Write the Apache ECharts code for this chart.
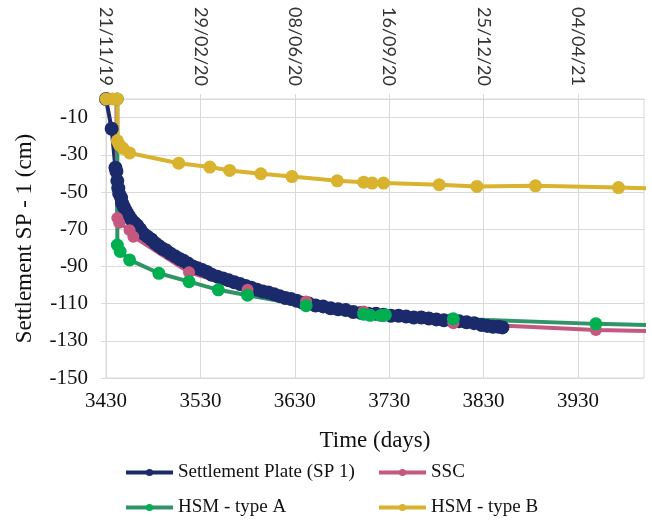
<!DOCTYPE html>
<html>
<head>
<meta charset="utf-8">
<script src="https://cdn.jsdelivr.net/npm/echarts@6/dist/echarts.min.js"></script>
<style>
  html, body { margin: 0; padding: 0; background: #fff; }
  #settlementChart { width: 652px; height: 520px; }
</style>
</head>
<body>
<div id="settlementChart"></div>
<script>
// tick positions (days) and the matching dates on the top axis
const dayTicks = [3430, 3530, 3630, 3730, 3830, 3930];
const dateLabels = ['21/11/19', '29/02/20', '08/06/20', '16/09/20', '25/12/20', '04/04/21'];
const settleTicks = [-150, -130, -110, -90, -70, -50, -30, -10];

// [day, settlement cm]
const sp1Data = [
    [3430, 0], [3436, -16], [3440, -37], [3441, -39], [3442, -44], [3443, -48],
    [3444, -51], [3446, -53], [3447, -56], [3449, -58], [3451, -60], [3453, -62],
    [3455, -63.5], [3457, -65], [3460, -66.5], [3463, -68], [3466, -70], [3470, -72.5],
    [3474, -74], [3478, -75.5], [3482, -77.5], [3486, -79], [3490, -80.5], [3494, -81.5],
    [3498, -83], [3503, -84.5], [3508, -86], [3512, -87], [3517, -88.5], [3522, -90],
    [3527, -91], [3532, -92], [3537, -93], [3542, -94.5], [3548, -95.5], [3554, -96.5],
    [3560, -97.5], [3566, -98.5], [3572, -99.5], [3578, -100.5], [3584, -101.5], [3590, -102.5],
    [3596, -103.5], [3602, -104], [3608, -105], [3614, -106], [3620, -107], [3626, -107.5],
    [3632, -108.5], [3638, -109.5], [3645, -110], [3652, -111], [3660, -111.5], [3668, -112.5],
    [3676, -113], [3684, -113.5], [3692, -114.5], [3700, -115], [3708, -115.5], [3716, -115.5],
    [3724, -116], [3732, -116.5], [3740, -116.5], [3748, -117], [3756, -117.5], [3764, -117.5],
    [3772, -118], [3780, -118.5], [3788, -119], [3796, -119], [3804, -119.5], [3812, -120],
    [3820, -120.5], [3828, -121.5], [3834, -122], [3840, -122.5], [3846, -122.5], [3850, -122.8]
];
const sscData = [
    [3441, 0], [3442, -64], [3444, -66.5], [3455, -70.5], [3459, -74], [3518, -93.2],
    [3580, -102.6], [3642, -108.9], [3703, -114.3], [3798, -120.6], [3949, -124.2], [4050, -125.3]
];
const hsmAData = [
    [3442, 0], [3442, -78.5], [3445, -82], [3455, -86.5], [3486, -93.7], [3518, -98.2],
    [3549, -102.6], [3580, -105.5], [3642, -111.1], [3703, -115.7], [3710, -116.3],
    [3721, -116.4], [3726, -116.1], [3798, -118.2], [3949, -120.9], [4050, -122]
];
const hsmBData = [
    [3430, 0], [3437, 0], [3442, 0], [3442, -22.5], [3444, -24.5], [3448, -26.5],
    [3455, -29], [3507, -34.5], [3540, -36.6], [3561, -38.4], [3594, -40.2], [3627, -41.7],
    [3675, -44], [3703, -44.7], [3712, -45.2], [3724, -45.2], [3783, -46.1], [3823, -47],
    [3885, -46.7], [3973, -47.6], [4050, -48.5]
];

const serif = 'Liberation Serif';
const gridColor = '#d9d9d9';

const lineSeries = (name, data, lineColor, dotColor, size) => ({
    name: name,
    type: 'line',
    data: data,
    symbol: 'circle',
    symbolSize: size,
    showSymbol: true,
    lineStyle: { color: lineColor, width: 4 },
    itemStyle: { color: dotColor },
    emphasis: { disabled: true },
    animation: false,
    z: 2
});

const legendItem = (name, left, top) => ({
    data: [name],
    left: left,
    top: top,
    padding: 0,
    itemWidth: 47,
    itemHeight: 9,
    lineStyle: { width: 4 },
    textStyle: { fontFamily: serif, fontSize: 19, color: '#111' }
});

const chart = echarts.init(document.getElementById('settlementChart'));
chart.setOption({
    backgroundColor: '#fff',
    animation: false,
    grid: {
        left: 106, right: 8, top: 99, bottom: 142,
        show: true, borderColor: gridColor, borderWidth: 1
    },
    legend: [
        legendItem('Settlement Plate (SP 1)', 124, 463),
        legendItem('SSC', 377, 463),
        legendItem('HSM - type A', 124, 498),
        legendItem('HSM - type B', 377, 498)
    ],
    xAxis: [{
        type: 'value',
        min: 3430,
        max: 4000,
        name: 'Time (days)',
        nameLocation: 'middle',
        nameGap: 51,
        nameTextStyle: { fontFamily: serif, fontSize: 23, color: '#111' },
        axisLine: { show: true, lineStyle: { color: gridColor } },
        axisTick: { show: true, length: 5, customValues: dayTicks, lineStyle: { color: gridColor } },
        axisLabel: {
            customValues: dayTicks, margin: 13, fontFamily: serif, fontSize: 21, color: '#111',
            formatter: (v) => String(v)
        },
        splitLine: { show: true, lineStyle: { color: gridColor, width: 1 } }
    }, {
        type: 'value',
        position: 'top',
        min: 3430,
        max: 4000,
        axisLine: { show: true, lineStyle: { color: gridColor } },
        axisTick: { show: true, length: 5, customValues: dayTicks, lineStyle: { color: gridColor } },
        axisLabel: {
            customValues: dayTicks,
            rotate: 90,
            margin: 13,
            fontFamily: 'Lato',
            fontSize: 18,
            color: '#333',
            formatter: (v) => dateLabels[dayTicks.indexOf(v)] || ''
        },
        splitLine: { show: false }
    }],
    yAxis: {
        type: 'value',
        min: -150,
        max: 0,
        name: 'Settlement SP - 1 (cm)',
        nameLocation: 'middle',
        nameGap: 70,
        nameTextStyle: { fontFamily: serif, fontSize: 23, color: '#111' },
        axisLine: { show: true, lineStyle: { color: gridColor } },
        axisTick: { show: true, length: 5, customValues: settleTicks, lineStyle: { color: gridColor } },
        axisLabel: {
            customValues: settleTicks, margin: 18, fontFamily: serif, fontSize: 21, color: '#111',
            formatter: (v) => String(v)
        },
        splitLine: { show: true, lineStyle: { color: gridColor, width: 1 } }
    },
    series: [
        lineSeries('Settlement Plate (SP 1)', sp1Data, '#1b2a6b', '#1b2a6b', 14),
        lineSeries('SSC', sscData, '#c4587f', '#c4587f', 12),
        lineSeries('HSM - type A', hsmAData, '#2f9466', '#00b050', 13),
        lineSeries('HSM - type B', hsmBData, '#d9b22e', '#d9b22e', 13)
    ]
});
</script>
</body>
</html>
